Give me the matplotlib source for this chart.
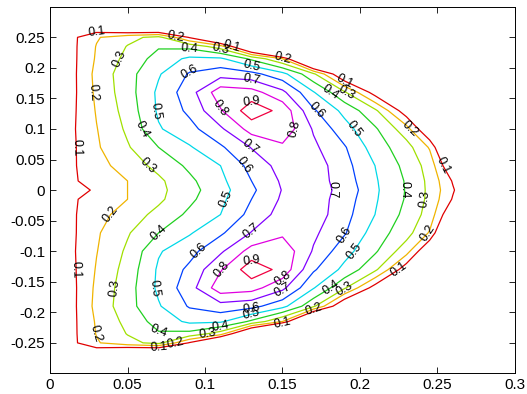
import numpy as np
import matplotlib
matplotlib.use('Agg')
import matplotlib.pyplot as plt

# grid nodes (upper half of the section, the lower half is its mirror)
x_nodes = [0.0, 0.015, 0.03, 0.05, 0.07, 0.09, 0.11, 0.13, 0.15, 0.17,
           0.19, 0.21, 0.23, 0.245, 0.26, 0.275]
y_upper = [0.0, 0.015, 0.04, 0.07, 0.10, 0.13, 0.16, 0.19, 0.215, 0.235,
           0.25, 0.265, 0.28]

# values, one row per y_upper entry
psi_upper = [
    [0.0, 0.054, 0.117, 0.20, 0.274, 0.365, 0.462, 0.58, 0.705, 0.745, 0.67, 0.515, 0.393, 0.278, 0.111, -0.05],
    [0.0, 0.09, 0.138, 0.20, 0.28, 0.379, 0.476, 0.60, 0.715, 0.75, 0.653, 0.51, 0.39, 0.275, 0.09, -0.1],
    [0.0, 0.09, 0.162, 0.246, 0.33, 0.42, 0.50, 0.633, 0.74, 0.755, 0.636, 0.498, 0.37, 0.26, -0.02, -0.2],
    [0.0, 0.087, 0.187, 0.29, 0.40, 0.49, 0.584, 0.705, 0.78, 0.72, 0.61, 0.45, 0.34, 0.19, -0.2, -0.4],
    [0.0, 0.09, 0.196, 0.318, 0.49, 0.566, 0.683, 0.84, 0.87, 0.69, 0.539, 0.412, 0.242, -0.035, -0.3, -0.5],
    [0.0, 0.085, 0.208, 0.34, 0.515, 0.622, 0.79, 0.96, 0.87, 0.614, 0.472, 0.319, 0.03, -0.3, -0.5, -0.6],
    [0.0, 0.08, 0.221, 0.356, 0.52, 0.656, 0.86, 0.84, 0.725, 0.507, 0.314, 0.046, -0.3, -0.5, -0.6, -0.7],
    [0.0, 0.08, 0.229, 0.362, 0.49, 0.61, 0.66, 0.633, 0.533, 0.32, -0.03, -0.4, -0.6, -0.7, -0.8, -0.8],
    [0.0, 0.08, 0.212, 0.33, 0.44, 0.52, 0.517, 0.38, 0.20, -0.32, -0.5, -0.7, -0.8, -0.8, -0.8, -0.8],
    [0.0, 0.08, 0.205, 0.305, 0.39, 0.37, 0.25, -0.15, -0.7, -0.8, -0.8, -0.8, -0.8, -0.8, -0.8, -0.8],
    [0.0, 0.08, 0.19, 0.27, 0.33, 0.09, -0.2, -0.4, -0.8, -0.8, -0.8, -0.8, -0.8, -0.8, -0.8, -0.8],
    [0.0, 0.0, 0.021, -0.07, -0.10, -0.3, -0.5, -0.6, -0.8, -0.8, -0.8, -0.8, -0.8, -0.8, -0.8, -0.8],
    [0.0, -0.2, -0.3, -0.3, -0.3, -0.4, -0.5, -0.7, -0.8, -0.8, -0.8, -0.8, -0.8, -0.8, -0.8, -0.8],
]

levels = [0.1, 0.2, 0.3, 0.4, 0.5, 0.6, 0.7, 0.8, 0.9]
level_colors = ['#e00000', '#f0b400', '#a0e000', '#20d020', '#00d8e8',
                '#0040ff', '#8000ff', '#e000e0', '#f00040']
xticks = [0, 0.05, 0.1, 0.15, 0.2, 0.25, 0.3]
yticks = [-0.25, -0.2, -0.15, -0.1, -0.05, 0, 0.05, 0.1, 0.15, 0.2, 0.25]

plt.rcParams['font.family'] = ['Liberation Sans', 'DejaVu Sans']

z_up = np.array(psi_upper)
z = np.vstack([z_up[:0:-1], z_up])
y = np.concatenate([-np.array(y_upper[:0:-1]), y_upper])

fig = plt.figure(figsize=(5.27, 3.94), dpi=100)
ax = fig.add_axes([0.095, 0.053, 0.882, 0.929])

cs = ax.contour(x_nodes, y, z, levels=levels, colors=level_colors,
                linewidths=0.9)

ax.set_xlim(0, 0.3)
ax.set_ylim(-0.2995, 0.2995)

# labels every ~130 px along each line, like matlab's clabel spacing
spacing, offset = 130.0, 45.0
spots = []
for segs in cs.allsegs:
    for seg in segs:
        if len(seg) < 2:
            continue
        d = ax.transData.transform(seg)
        dist = np.concatenate([[0], np.cumsum(np.hypot(*np.diff(d, axis=0).T))])
        s = offset
        while s < dist[-1] - 10:
            i = np.searchsorted(dist, s)
            spots.append(tuple(seg[min(i, len(seg) - 1)]))
            s += spacing
ax.clabel(cs, inline=False, fontsize=9, fmt='%g', colors='k', manual=spots)

ax.set_xticks(xticks)
ax.set_yticks(yticks)
ax.set_xticklabels(['0', '0.05', '0.1', '0.15', '0.2', '0.25', '0.3'])
ax.set_yticklabels(['-0.25', '-0.2', '-0.15', '-0.1', '-0.05', '0',
                    '0.05', '0.1', '0.15', '0.2', '0.25'])
ax.tick_params(direction='in', top=True, right=True, length=4,
               labelsize=11, width=0.6)
for s in ax.spines.values():
    s.set_linewidth(0.7)

fig.savefig('out.png', dpi=100)
